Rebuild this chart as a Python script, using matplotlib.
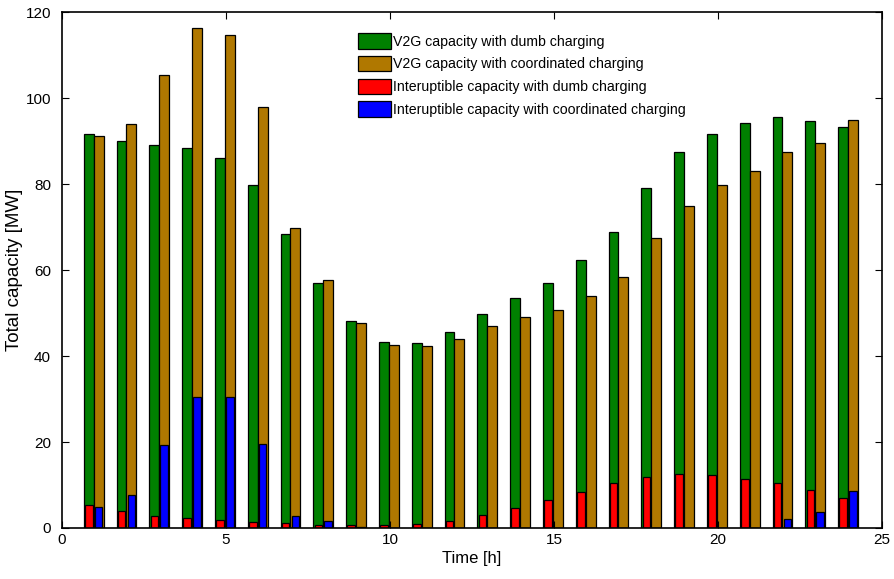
import matplotlib.pyplot as plt
import numpy as np

plt.rcParams['font.family'] = ['Liberation Sans', 'DejaVu Sans']

hours = np.arange(1, 25)

# V2G capacity [MW]
v2g_dumb = [91.6, 90.1, 89.1, 88.5, 86.1, 79.9, 68.4, 57.1, 48.2, 43.3, 43.1, 45.6,
            49.8, 53.6, 56.9, 62.4, 68.9, 79.0, 87.4, 91.7, 94.3, 95.6, 94.7, 93.2]
v2g_coord = [91.3, 93.9, 105.3, 116.3, 114.6, 97.9, 69.9, 57.7, 47.6, 42.6, 42.3, 43.9,
             46.9, 49.1, 50.6, 54.0, 58.4, 67.4, 74.9, 79.7, 83.1, 87.4, 89.6, 95.0]

# interruptible capacity [MW]
int_dumb = [5.3, 3.9, 2.9, 2.3, 1.9, 1.5, 1.1, 0.8, 0.8, 0.8, 1.0, 1.7,
            3.0, 4.7, 6.6, 8.4, 10.5, 11.9, 12.5, 12.3, 11.4, 10.4, 8.8, 7.0]
int_coord = [4.9, 7.6, 19.2, 30.4, 30.4, 19.6, 2.8, 1.6, 0.2, 0.1, 0.0, 0.0,
             0.0, 0.0, 0.0, 0.0, 0.0, 0.0, 0.0, 0.0, 0.0, 2.2, 3.7, 8.6]

labels = ['V2G capacity with dumb charging',
          'V2G capacity with coordinated charging',
          'Interuptible capacity with dumb charging',
          'Interuptible capacity with coordinated charging']

fig = plt.figure(figsize=(8.94, 5.79), dpi=100)
ax = fig.add_axes([0.0694, 0.0881, 0.9172, 0.8909])

w = 0.3
wi = 0.23
x1 = hours - 0.185
x2 = hours + 0.115

ax.bar(x1, v2g_dumb, w, color='#008000', edgecolor='black', linewidth=0.9, label=labels[0])
ax.bar(x2, v2g_coord, w, color='#B07800', edgecolor='black', linewidth=0.9, label=labels[1])
ax.bar(x1, int_dumb, wi, color='#FF0000', edgecolor='black', linewidth=0.9, label=labels[2])
ax.bar(x2, int_coord, wi, color='#0000FF', edgecolor='black', linewidth=0.9, label=labels[3])

ax.set_xlim(0, 25)
ax.set_ylim(0, 120)
ax.set_xticks(np.arange(0, 26, 5))
ax.set_yticks(np.arange(0, 121, 20))
ax.tick_params(direction='in', top=True, right=True, labelsize=11, length=5)
ax.tick_params(axis='y', pad=8)
for s in ax.spines.values():
    s.set_linewidth(1.2)

ax.set_xlabel('Time [h]', fontsize=12, labelpad=3)
ax.set_ylabel('Total capacity [MW]', fontsize=13.5, labelpad=2)

ax.legend(loc='upper left', bbox_to_anchor=(0.349, 0.978), frameon=False,
          fontsize=10.2, handlelength=2.35, handleheight=1.3, handletextpad=0.1,
          labelspacing=0.5, borderpad=0.2)

plt.savefig('out.png', dpi=100)
